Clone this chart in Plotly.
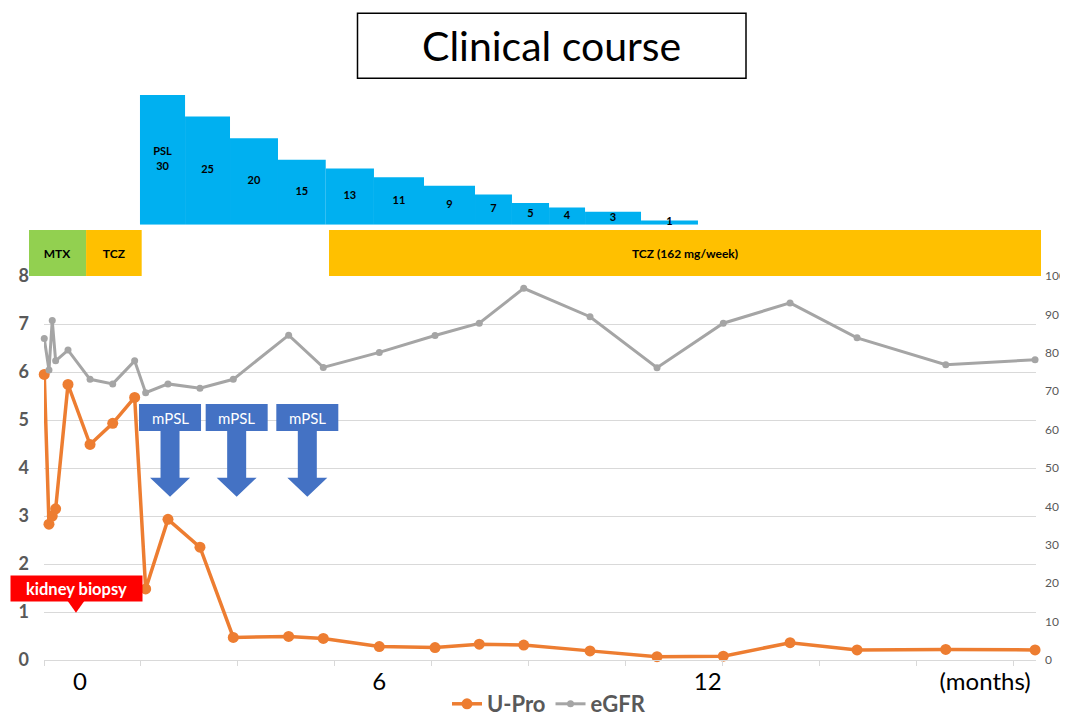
import plotly.graph_objects as go

# ---------------- data (time in weeks from kidney biopsy) ----------------
weeks = [-2.95, -2.56, -2.29, -2.01, -0.99, 0.83, 2.70, 4.51, 5.42, 7.26, 9.90,
         12.65, 17.22, 20.08, 24.70, 29.30, 32.95, 36.62, 42.09, 47.62, 53.09,
         58.60, 64.13, 71.45, 78.82]
upro = [5.95, 2.83, 3.00, 3.15, 5.74, 4.49, 4.93, 5.47, 1.48, 2.93, 2.35,
        0.47, 0.49, 0.45, 0.28, 0.26, 0.33, 0.31, 0.19, 0.07, 0.08,
        0.36, 0.21, 0.22, 0.21]
egfr = [83.7, 75.5, 88.4, 77.9, 80.7, 73.1, 71.9, 77.9, 69.6, 71.9, 70.8,
        73.1, 84.6, 76.2, 80.1, 84.5, 87.7, 96.8, 89.4, 76.1, 87.7,
        93.0, 83.9, 76.9, 78.2]

psl_dose = [30, 25, 20, 15, 13, 11, 9, 7, 5, 4, 3, 1]
psl_start = [4.95, 8.67, 12.38, 16.34, 20.28, 24.26, 28.39, 32.60, 35.65, 38.71, 41.68, 46.30]
psl_end = [8.67, 12.38, 16.34, 20.28, 24.26, 28.39, 32.60, 35.65, 38.71, 41.68, 46.30, 51.00]

drug_names = ["MTX", "TCZ", "TCZ (162 mg/week)"]
drug_start = [-4.21, 0.50, 20.55]
drug_end = [0.50, 5.09, 79.31]
drug_colors = ["#92D050", "#FFC000", "#FFC000"]

mpsl_weeks = [7.43, 12.93, 18.76]
biopsy_week = -0.33

xtick_pos = [0, 24.7, 51.8, 74.7]
xtick_text = ["0", "6", "12", "(months)"]

# ---------------- geometry helpers ----------------
W, H = 1068, 719
OFF = 8  # page body margin
PX_PER_WEEK = 12.117
PX_PER_UNIT = 48.0
FONT = "Lato"
GREY = "#595959"

def fx(px):
    return (px - OFF) / W

def fy(px):
    return 1 - (px - OFF) / H

fig = go.Figure()

# PSL step bars
fig.add_trace(go.Bar(
    x=psl_start, y=psl_dose, width=[e - s for s, e in zip(psl_start, psl_end)],
    offset=0, marker=dict(color="#00B0F0", line=dict(width=0)),
    xaxis="x", yaxis="y4", showlegend=False, hoverinfo="skip"))
psl_text = ["PSL<br>" + str(d) if i == 0 else str(d) for i, d in enumerate(psl_dose)]
fig.add_trace(go.Scatter(
    x=[(s + e) / 2 for s, e in zip(psl_start, psl_end)], y=[d / 2 for d in psl_dose],
    mode="text", text=psl_text, textfont=dict(family=FONT, size=11, color="black", weight="bold"),
    xaxis="x", yaxis="y4", showlegend=False, hoverinfo="skip", cliponaxis=False))

# Treatment band
fig.add_trace(go.Bar(
    y=[0] * len(drug_names), x=[e - s for s, e in zip(drug_start, drug_end)], base=drug_start,
    orientation="h", width=1, marker=dict(color=drug_colors, line=dict(width=0)),
    text=drug_names, textposition="inside", insidetextanchor="middle",
    textfont=dict(family=FONT, size=12, color="black", weight="bold"),
    xaxis="x2", yaxis="y3", showlegend=False, hoverinfo="skip"))

# Main series
fig.add_trace(go.Scatter(
    x=weeks, y=upro, name="U-Pro", mode="lines+markers",
    line=dict(color="#ED7D31", width=3.5), marker=dict(size=11, color="#ED7D31"),
    xaxis="x", yaxis="y", cliponaxis=False))
fig.add_trace(go.Scatter(
    x=weeks, y=egfr, name="eGFR", mode="lines+markers",
    line=dict(color="#A5A5A5", width=3), marker=dict(size=7, color="#A5A5A5"),
    xaxis="x", yaxis="y2", cliponaxis=False))

shapes = []
annotations = []

# mPSL callouts (tip at y=3.40 units)
tip_y = (660 - 496.7) / PX_PER_UNIT
for wk in mpsl_weeks:
    def P(dx, dy):
        return f"{wk + dx / PX_PER_WEEK},{tip_y + dy / PX_PER_UNIT}"
    top, bb, hb = 92.7, 65.7, 19.0
    path = ("M " + P(-31, top) + " L " + P(31, top) + " L " + P(31, bb) + " L " + P(9.5, bb) +
            " L " + P(9.5, hb) + " L " + P(20, hb) + " L " + P(0, 0) + " L " + P(-20, hb) +
            " L " + P(-9.5, hb) + " L " + P(-9.5, bb) + " L " + P(-31, bb) + " Z")
    shapes.append(dict(type="path", path=path, xref="x", yref="y", fillcolor="#4472C4",
                       line=dict(width=0), layer="between"))
    annotations.append(dict(x=wk, y=tip_y + (top + bb) / 2 / PX_PER_UNIT, xref="x", yref="y",
                            text="mPSL", showarrow=False,
                            font=dict(family=FONT, size=15, color="white")))

# Kidney biopsy callout
b_tip = (660 - 612.7) / PX_PER_UNIT
def B(dx, dy):
    return f"{biopsy_week + dx / PX_PER_WEEK},{b_tip + dy / PX_PER_UNIT}"
shapes.append(dict(type="path", path="M " + B(-9.2, 13) + " L " + B(9.2, 13) + " L " + B(0, 0) + " Z",
                   xref="x", yref="y", fillcolor="#FF0000", line=dict(width=0), layer="above"))
annotations.append(dict(x=biopsy_week, y=b_tip + 24.5 / PX_PER_UNIT, xref="x", yref="y",
                        text="<b>kidney biopsy</b>", showarrow=False, bgcolor="#FF0000",
                        width=127, height=21, borderpad=2,
                        font=dict(family=FONT, size=16.5, color="white")))

# Title box
shapes.append(dict(type="rect", xref="paper", yref="paper", x0=fx(357.5), x1=fx(746),
                   y0=fy(78.3), y1=fy(13.3), line=dict(color="black", width=1.5)))
annotations.append(dict(x=fx(551.5), y=fy(46), xref="paper", yref="paper", text="Clinical course",
                        showarrow=False, xanchor="center", yanchor="middle",
                        font=dict(family=FONT, size=41, color="black")))

xr0 = (44 - 80) / PX_PER_WEEK
xr1 = (1036 - 80) / PX_PER_WEEK

fig.update_layout(
    width=W, height=H, margin=dict(l=0, r=0, t=0, b=0, autoexpand=False),
    paper_bgcolor="white", plot_bgcolor="white",
    font=dict(family=FONT, color=GREY),
    shapes=shapes, annotations=annotations,
    xaxis=dict(domain=[fx(44), fx(1036)], range=[xr0, xr1], anchor="y",
               showgrid=False, zeroline=False, showline=True, linecolor="#D9D9D9", linewidth=1,
               tickmode="array", tickvals=xtick_pos, ticktext=xtick_text, ticks="",
               tickfont=dict(family=FONT, size=24, color="black"),
               minor=dict(ticks="outside", tick0=xr0, dtick=8, ticklen=5, tickcolor="#D9D9D9",
                          showgrid=False)),
    yaxis=dict(domain=[fy(660), fy(276)], range=[0, 8], dtick=1, anchor="x",
               showgrid=True, gridcolor="#D9D9D9", gridwidth=1, zeroline=False, showline=False,
               tickfont=dict(family=FONT, size=18, color=GREY, weight="bold"),
               ticklabelstandoff=14),
    yaxis2=dict(overlaying="y", side="right", range=[0, 100], dtick=10, anchor="x",
                showgrid=False, zeroline=False, showline=False,
                tickfont=dict(family=FONT, size=12, color=GREY), ticklabelstandoff=8),
    xaxis2=dict(domain=[fx(29), fx(1041)], range=[-4.21, 79.31], anchor="y3", visible=False),
    yaxis3=dict(domain=[fy(276), fy(230)], range=[-0.5, 0.5], anchor="x2", visible=False),
    yaxis4=dict(domain=[fy(224.7), fy(95)], range=[0, 30], anchor="x", visible=False),
    legend=dict(orientation="h", x=fx(549), xanchor="center", y=fy(704), yanchor="middle",
                font=dict(family=FONT, size=22, color=GREY, weight="bold"),
                itemwidth=30, bgcolor="rgba(0,0,0,0)"),
)

fig.write_html("out.html")
